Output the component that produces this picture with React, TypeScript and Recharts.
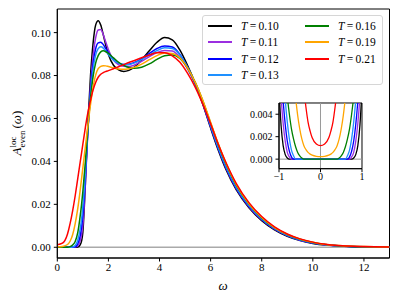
import React from "react";
import {
  LineChart,
  Line,
  XAxis,
  YAxis,
  ReferenceLine,
  ReferenceArea,
} from "recharts";

// frequency grid of the main panel
const omega = [
  0, 0.2, 0.4, 0.5, 0.6, 0.7, 0.8, 0.9, 0.95, 1.0, 1.05, 1.1, 1.2, 1.3, 1.4, 1.5,
  1.6, 1.7, 1.8, 1.9, 2.0, 2.2, 2.4, 2.6, 2.8, 3.0, 3.3, 3.6, 3.9, 4.2, 4.5, 4.8,
  5.1, 5.4, 5.7, 6.0, 6.3, 6.6, 7.0, 7.5, 8.0, 8.5, 9.0, 9.5, 10, 10.5, 11, 12, 13,
];

const aT010 = [
  0, 0, 0, 0, 0, 0, 0.0001, 0.0012, 0.003, 0.007, 0.017, 0.03, 0.058, 0.08, 0.095, 0.1035,
  0.1055, 0.1035, 0.099, 0.094, 0.0898, 0.0848, 0.0826, 0.0819, 0.0824, 0.0838, 0.0873, 0.0915, 0.0955, 0.0977, 0.0966, 0.0918,
  0.0846, 0.0762, 0.0664, 0.0555, 0.0452, 0.0362, 0.0268, 0.0184, 0.0124, 0.0081, 0.0051, 0.0031, 0.0018, 0.001, 0.0006, 0.0002, 0.0001,
];
const aT011 = [
  0, 0, 0, 0, 0, 0.0001, 0.0006, 0.0032, 0.0058, 0.0105, 0.019, 0.03, 0.055, 0.075, 0.089, 0.0975,
  0.1012, 0.1015, 0.099, 0.0955, 0.092, 0.0872, 0.085, 0.0843, 0.0842, 0.0848, 0.0866, 0.0888, 0.0907, 0.0917, 0.0914, 0.0884,
  0.083, 0.0758, 0.0668, 0.0562, 0.046, 0.037, 0.0274, 0.0189, 0.0128, 0.0084, 0.0054, 0.0033, 0.002, 0.0011, 0.0006, 0.0002, 0.0001,
];
const aT012 = [
  0, 0, 0, 0, 0.0001, 0.0002, 0.0016, 0.0055, 0.0095, 0.015, 0.023, 0.033, 0.055, 0.073, 0.0855, 0.0925,
  0.0952, 0.0955, 0.0944, 0.0925, 0.0906, 0.0875, 0.0858, 0.0852, 0.0853, 0.086, 0.0878, 0.0903, 0.0926, 0.0938, 0.0933, 0.0898,
  0.0838, 0.0762, 0.0668, 0.0562, 0.046, 0.0372, 0.0276, 0.0191, 0.013, 0.0086, 0.0055, 0.0034, 0.002, 0.0012, 0.0007, 0.0002, 0.0001,
];
const aT013 = [
  0, 0, 0, 0, 0.0001, 0.0008, 0.0033, 0.0088, 0.013, 0.019, 0.026, 0.035, 0.055, 0.0715, 0.083, 0.0895,
  0.0925, 0.0934, 0.0928, 0.0914, 0.0898, 0.0872, 0.0858, 0.0852, 0.0852, 0.0858, 0.0874, 0.0896, 0.0916, 0.0929, 0.0926, 0.0896,
  0.0838, 0.0764, 0.0672, 0.0567, 0.0465, 0.0376, 0.028, 0.0194, 0.0132, 0.0088, 0.0056, 0.0035, 0.0021, 0.0012, 0.0007, 0.0002, 0.0001,
];
const aT016 = [
  0, 0, 0, 0.0003, 0.0011, 0.0027, 0.0068, 0.015, 0.02, 0.026, 0.033, 0.04, 0.056, 0.0695, 0.0795, 0.0858,
  0.0893, 0.091, 0.0915, 0.0911, 0.0903, 0.0882, 0.0862, 0.0847, 0.0837, 0.0834, 0.0839, 0.0854, 0.0875, 0.0892, 0.0896, 0.088,
  0.0835, 0.0767, 0.068, 0.0578, 0.0478, 0.0388, 0.029, 0.0201, 0.0137, 0.0091, 0.0059, 0.0037, 0.0022, 0.0013, 0.0007, 0.0002, 0.0001,
];
const aT019 = [
  0.0002, 0.0004, 0.0013, 0.0028, 0.0058, 0.011, 0.018, 0.027, 0.032, 0.037, 0.042, 0.047, 0.057, 0.0665, 0.0745, 0.0802,
  0.0832, 0.0843, 0.0846, 0.0845, 0.0842, 0.0835, 0.083, 0.0829, 0.0832, 0.0838, 0.0853, 0.0874, 0.0893, 0.0905, 0.0903, 0.0882,
  0.0835, 0.0768, 0.0683, 0.0582, 0.0482, 0.0392, 0.0293, 0.0203, 0.0139, 0.0092, 0.006, 0.0038, 0.0023, 0.0013, 0.0008, 0.0003, 0.0001,
];
const aT021 = [
  0.0012, 0.0019, 0.0062, 0.011, 0.017, 0.024, 0.032, 0.04, 0.044, 0.048, 0.052, 0.056, 0.063, 0.0685, 0.0733, 0.0768,
  0.0792, 0.0806, 0.0814, 0.0819, 0.0823, 0.0832, 0.0841, 0.0851, 0.0861, 0.0869, 0.0883, 0.0896, 0.0906, 0.0906, 0.0892, 0.0862,
  0.081, 0.0745, 0.0665, 0.0575, 0.048, 0.0395, 0.0298, 0.0208, 0.0143, 0.0095, 0.0062, 0.0039, 0.0024, 0.0014, 0.0008, 0.0003, 0.0001,
];

// inset: |omega| grid, curves are even in omega
const insetOmega = [0, 0.1, 0.2, 0.25, 0.3, 0.35, 0.4, 0.45, 0.5, 0.55, 0.6, 0.65, 0.7, 0.75, 0.8, 0.85, 0.9, 0.95, 1.0];
const iT010 = [0, 0, 0, 0, 0, 0, 0, 0, 0, 0, 0, 0, 0, 0, 0.0001, 0.0004, 0.0012, 0.003, 0.0062];
const iT011 = [0, 0, 0, 0, 0, 0, 0, 0, 0, 0, 0, 0, 0, 0.0002, 0.0006, 0.0016, 0.0032, 0.0056, 0.0095];
const iT012 = [0, 0, 0, 0, 0, 0, 0, 0, 0, 0, 0, 0, 0.0002, 0.0007, 0.0016, 0.0031, 0.0052, 0.0085, 0.013];
const iT013 = [0, 0, 0, 0, 0, 0, 0, 0, 0, 0, 0, 0.0003, 0.0008, 0.0018, 0.0033, 0.0053, 0.0083, 0.012, 0.017];
const iT016 = [0, 0, 0, 0, 0, 0, 0, 0.0001, 0.0003, 0.0006, 0.0011, 0.0018, 0.0027, 0.004, 0.0056, 0.0078, 0.0105, 0.014, 0.018];
const iT019 = [0.00022, 0.00025, 0.00035, 0.00045, 0.0006, 0.00085, 0.0012, 0.0018, 0.0027, 0.0039, 0.0055, 0.0075, 0.01, 0.013, 0.017, 0.021, 0.026, 0.031, 0.036];
const iT021 = [0.0012, 0.00135, 0.0019, 0.0025, 0.0033, 0.0046, 0.0062, 0.0082, 0.011, 0.014, 0.017, 0.02, 0.024, 0.028, 0.032, 0.036, 0.04, 0.044, 0.048];

const temps = ["0.10", "0.11", "0.12", "0.13", "0.16", "0.19", "0.21"];
const colors = ["#000000", "#9b2fe0", "#0000ff", "#1e90ff", "#008000", "#ffa500", "#ff0000"];
const mainSeries = [aT010, aT011, aT012, aT013, aT016, aT019, aT021];
const insetSeries = [iT010, iT011, iT012, iT013, iT016, iT019, iT021];

const mainTicksX = [0, 2, 4, 6, 8, 10, 12];
const mainTicksY = [0, 0.02, 0.04, 0.06, 0.08, 0.1];
const insetTicksX = [-1, 0, 1];
const insetTicksY = [0, 0.002, 0.004];

const keys = temps.map((t) => "T" + t);

const mainRows = omega.map((w, i) => {
  const row: Record<string, number> = { w };
  keys.forEach((k, j) => (row[k] = mainSeries[j][i]));
  return row;
});

const insetRows: Record<string, number>[] = [];
for (let i = insetOmega.length - 1; i > 0; i--) {
  const row: Record<string, number> = { w: -insetOmega[i] };
  keys.forEach((k, j) => (row[k] = insetSeries[j][i]));
  insetRows.push(row);
}
insetOmega.forEach((w, i) => {
  const row: Record<string, number> = { w };
  keys.forEach((k, j) => (row[k] = insetSeries[j][i]));
  insetRows.push(row);
});

const font = "Liberation Serif, DejaVu Serif, Noto Serif, Times New Roman, Times, serif";
const tickStyle = { fill: "#000", fontSize: 11, fontFamily: font };
const insetTickStyle = { fill: "#000", fontSize: 10, fontFamily: font };

const YLabel = () => (
  <text
    transform="translate(21,133) rotate(-90)"
    textAnchor="middle"
    fontFamily={font}
    fontSize={13}
    fill="#000"
  >
    <tspan fontStyle="italic">A</tspan>
    <tspan fontSize={9} dy={-5.5}>loc</tspan>
    <tspan fontSize={9} dx={-11} dy={9.5}>even</tspan>
    <tspan dy={-4} dx={2}>(</tspan>
    <tspan fontStyle="italic">ω</tspan>
    <tspan>)</tspan>
  </text>
);

const XLabel = () => (
  <text x={223} y={290} textAnchor="middle" fontFamily={font} fontSize={13} fontStyle="italic" fill="#000">
    ω
  </text>
);

const Legend = () => (
  <div
    style={{
      position: "absolute",
      left: 202,
      top: 15,
      width: 181,
      height: 70,
      boxSizing: "border-box",
      border: "1px solid #d6d6d6",
      borderRadius: 3,
      background: "rgba(255,255,255,0.85)",
      fontFamily: font,
      fontSize: 11.5,
    }}
  >
    {temps.map((t, i) => {
      const col = i < 4 ? 0 : 1;
      const row = i < 4 ? i : i - 4;
      const left = col === 0 ? 5 : 102;
      const top = 9.5 + row * 16.5;
      return (
        <div key={t} style={{ position: "absolute", left, top: top - 7, height: 14, width: 80 }}>
          <div style={{ position: "absolute", left: 0, top: 6, width: 24, height: 2, background: colors[i] }} />
          <div style={{ position: "absolute", left: 33, top: 0, lineHeight: "14px", whiteSpace: "nowrap" }}>
            <i>T</i>
            {"\u2009=\u2009"}
            {t}
          </div>
        </div>
      );
    })}
  </div>
);

export default function App() {
  return (
    <div style={{ position: "absolute", left: 0, top: 0, width: 399, height: 298, background: "#fff" }}>
      <LineChart width={399} height={298} data={mainRows} margin={{ top: 9, right: 9.5, bottom: 0, left: 0 }}>
        <XAxis
          dataKey="w"
          type="number"
          domain={[0, 13]}
          ticks={mainTicksX}
          height={40}
          tickSize={3.5}
          tickMargin={2}
          tick={tickStyle}
          tickLine={{ stroke: "#000" }}
          axisLine={{ stroke: "#000" }}
          allowDataOverflow
          label={{ content: () => <XLabel /> }}
        />
        <YAxis
          type="number"
          domain={[-0.005, 0.111]}
          ticks={mainTicksY}
          width={57.3}
          tickSize={3.5}
          tickMargin={3}
          tick={tickStyle}
          tickLine={{ stroke: "#000" }}
          axisLine={{ stroke: "#000" }}
          tickFormatter={(v: number) => v.toFixed(2)}
          allowDataOverflow
          label={{ content: () => <YLabel /> }}
        />
        <ReferenceLine y={0} stroke="#aaaaaa" strokeWidth={1.5} />
        {keys.map((k, i) => (
          <Line
            key={k}
            dataKey={k}
            type="monotone"
            stroke={colors[i]}
            strokeWidth={1.5}
            dot={false}
            isAnimationActive={false}
          />
        ))}
        <ReferenceArea x1={0} x2={13} y1={-0.005} y2={0.111} fill="none" stroke="#000" strokeWidth={1} />
      </LineChart>

      <div style={{ position: "absolute", left: 239.3, top: 98.3 }}>
        <LineChart width={131} height={92.7} data={insetRows} margin={{ top: 5, right: 8, bottom: 0, left: 0 }}>
          <XAxis
            dataKey="w"
            type="number"
            domain={[-1, 1]}
            ticks={insetTicksX}
            height={22}
            tickSize={3.5}
            tickMargin={1}
            tick={insetTickStyle}
            tickLine={{ stroke: "#000" }}
            axisLine={{ stroke: "#000" }}
            tickFormatter={(v: number) => (v < 0 ? "\u2212" + Math.abs(v) : String(v))}
            allowDataOverflow
          />
          <YAxis
            type="number"
            domain={[-0.00085, 0.005]}
            ticks={insetTicksY}
            width={40}
            tickSize={3.5}
            tickMargin={3}
            tick={insetTickStyle}
            tickLine={{ stroke: "#000" }}
            axisLine={{ stroke: "#000" }}
            tickFormatter={(v: number) => v.toFixed(3)}
            allowDataOverflow
          />
          <ReferenceLine y={0} stroke="#999999" strokeWidth={1} />
          <ReferenceLine x={0} stroke="#999999" strokeWidth={1} />
          {keys.map((k, i) => (
            <Line
              key={k}
              dataKey={k}
              type="monotone"
              stroke={colors[i]}
              strokeWidth={1.3}
              dot={false}
              isAnimationActive={false}
            />
          ))}
          <ReferenceArea x1={-1} x2={1} y1={-0.00085} y2={0.005} fill="none" stroke="#000" strokeWidth={1} />
        </LineChart>
      </div>

      <Legend />
    </div>
  );
}
